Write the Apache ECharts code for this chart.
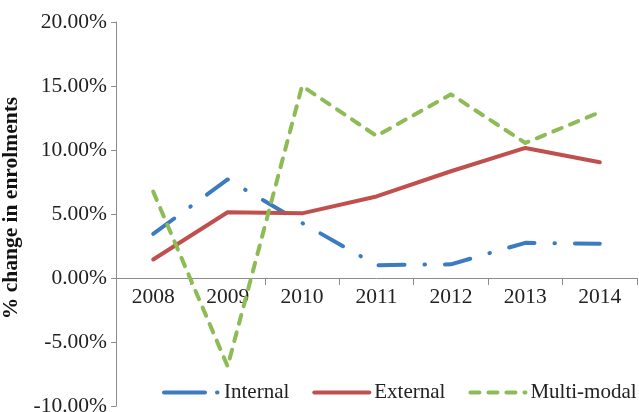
<!DOCTYPE html>
<html>
<head>
<meta charset="utf-8">
<style>
  html, body { margin: 0; padding: 0; background: #fff; }
  #chart { width: 639px; height: 412px; }
</style>
<script src="https://cdn.jsdelivr.net/npm/echarts@6/dist/echarts.min.js"></script>
</head>
<body>
<div id="chart"></div>
<script>
// Year-on-year change in enrolments by delivery mode (%)
const years = ['2008', '2009', '2010', '2011', '2012', '2013', '2014'];
const internal = [3.45, 7.7, 4.3, 1.0, 1.07, 2.75, 2.67];
const external = [1.45, 5.14, 5.05, 6.37, 8.34, 10.16, 9.04];
const multiModal = [6.75, -6.9, 15.0, 11.1, 14.35, 10.55, 12.95];

const Y_MIN = -10;
const Y_MAX = 20;
const Y_STEP = 5;

const FONT = '"Liberation Serif", "Times New Roman", serif';
const FONT_SIZE = 21.5;
const LEGEND_FONT_SIZE = 21;
const AXIS_GREY = '#8c8c8c';
const GRID_TOP = 22;
const GRID_BOTTOM = 6;
const CHART_H = 412;
const LINE_W = 4;

const chart = echarts.init(document.getElementById('chart'), null, { renderer: 'canvas' });

// the category axis sits on the zero line of the value axis
const plotH = CHART_H - GRID_TOP - GRID_BOTTOM;
const zeroFromBottom = plotH * (0 - Y_MIN) / (Y_MAX - Y_MIN);

const DASH_DOT = [26, 20, 0.5, 20];
const SHORT_DASH = [9, 9];

function lineSeries(name, data, color, dash) {
  return {
    name: name,
    type: 'line',
    data: data,
    symbol: 'none',
    showSymbol: false,
    animation: false,
    lineStyle: { color: color, width: LINE_W, type: dash, cap: 'round', join: 'round' },
    itemStyle: { color: color }
  };
}

chart.setOption({
  animation: false,
  backgroundColor: '#ffffff',
  grid: {
    left: 116, right: 2, top: GRID_TOP, bottom: GRID_BOTTOM,
    containLabel: false, outerBoundsMode: 'none'
  },
  legend: {
    left: 162,
    top: 382,
    width: 500,
    padding: 0,
    itemWidth: 55,
    itemHeight: 14,
    itemGap: 23,
    itemStyle: { opacity: 0, borderWidth: 0 },
    lineStyle: { width: LINE_W, cap: 'round' },
    textStyle: { fontFamily: FONT, fontSize: LEGEND_FONT_SIZE, color: '#222' },
    data: [
      { name: 'Internal', lineStyle: { width: LINE_W, cap: 'round', type: [41, 12, 0.5, 20] } },
      { name: 'External', lineStyle: { width: LINE_W, cap: 'round' } },
      { name: 'Multi-modal', lineStyle: { width: LINE_W, cap: 'round', type: SHORT_DASH } }
    ]
  },
  xAxis: {
    type: 'category',
    data: years,
    boundaryGap: true,
    offset: -zeroFromBottom,
    axisLine: { onZero: false, lineStyle: { color: AXIS_GREY, width: 1 } },
    axisTick: { show: true, length: 7, alignWithLabel: false, lineStyle: { color: AXIS_GREY } },
    axisLabel: { fontFamily: FONT, fontSize: FONT_SIZE, color: '#222', margin: 8 },
    splitLine: { show: false }
  },
  yAxis: {
    type: 'value',
    min: Y_MIN,
    max: Y_MAX,
    interval: Y_STEP,
    name: '% change in enrolments',
    nameLocation: 'middle',
    nameRotate: 90,
    nameGap: 85,
    nameTextStyle: {
      fontFamily: FONT, fontSize: FONT_SIZE, fontWeight: 'bold', color: '#111',
      padding: [0, 0, 0, 12]
    },
    axisLine: { show: true, lineStyle: { color: AXIS_GREY, width: 1 } },
    axisTick: { show: true, length: 5, lineStyle: { color: AXIS_GREY } },
    axisLabel: {
      fontFamily: FONT, fontSize: FONT_SIZE, color: '#222', margin: 9,
      formatter: v => v.toFixed(2) + '%'
    },
    splitLine: { show: false }
  },
  series: [
    lineSeries('Internal', internal, '#3b7bc0', DASH_DOT),
    lineSeries('External', external, '#c0504d', 'solid'),
    lineSeries('Multi-modal', multiModal, '#8dbb55', SHORT_DASH)
  ]
});
</script>
</body>
</html>
